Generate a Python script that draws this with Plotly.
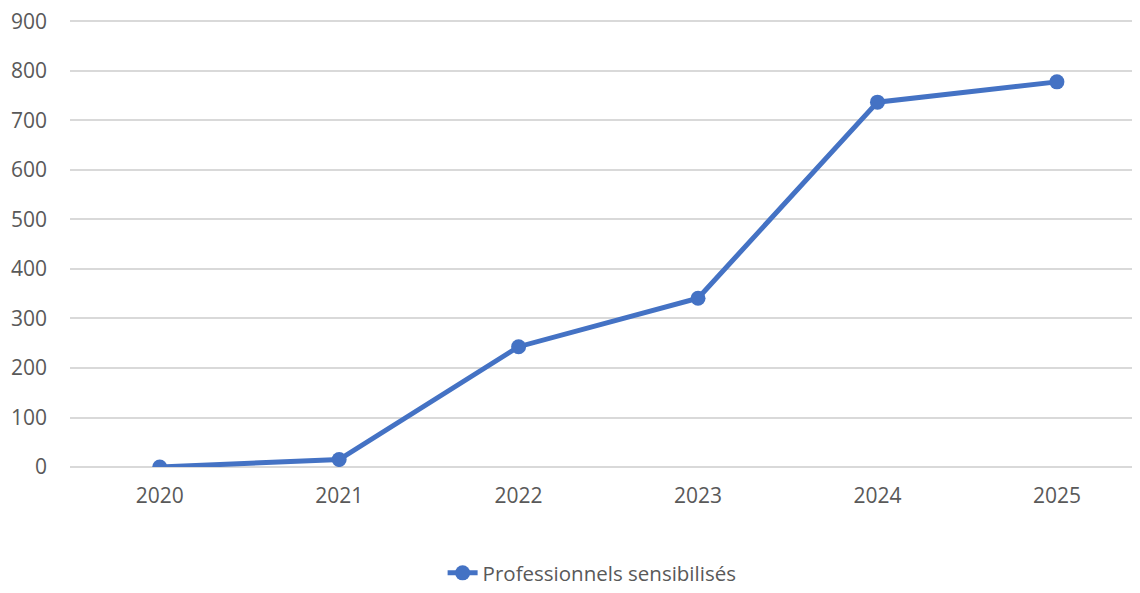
import plotly.graph_objects as go

years = ["2020", "2021", "2022", "2023", "2024", "2025"]
values = [0, 15, 243, 341, 737, 778]
series_name = "Professionnels sensibilisés"
y_ticks = [0, 100, 200, 300, 400, 500, 600, 700, 800, 900]

fig = go.Figure()
fig.add_trace(go.Scatter(
    x=years, y=values, name=series_name, mode="lines+markers",
    line=dict(color="#4472C4", width=5),
    marker=dict(color="#4472C4", size=15),
))

font_family = "Open Sans"
fig.update_layout(
    width=1132, height=585,
    margin=dict(l=62, r=0, t=11, b=126, autoexpand=False),
    paper_bgcolor="white", plot_bgcolor="white",
    font=dict(family=font_family, color="#595959", size=21),
    showlegend=True,
    legend=dict(orientation="h", xref="container", yref="container",
                x=0.516, y=0.0, xanchor="center", yanchor="bottom",
                font=dict(size=20.5, color="#595959")),
    xaxis=dict(type="category", range=[-0.5, 5.463], showgrid=False,
               showline=False, ticks="", ticklabelstandoff=14,
               automargin=False,
               tickfont=dict(size=21, color="#595959")),
    yaxis=dict(range=[0, 905], tickvals=y_ticks, showgrid=True,
               gridcolor="#D9D9D9", gridwidth=1.5, zeroline=True,
               zerolinecolor="#D9D9D9", zerolinewidth=1.5,
               showline=False, ticks="", ticklabelstandoff=22,
               ticklabeloverflow="allow",
               automargin=False,
               tickfont=dict(size=21, color="#595959")),
)
fig.write_html("out.html")
